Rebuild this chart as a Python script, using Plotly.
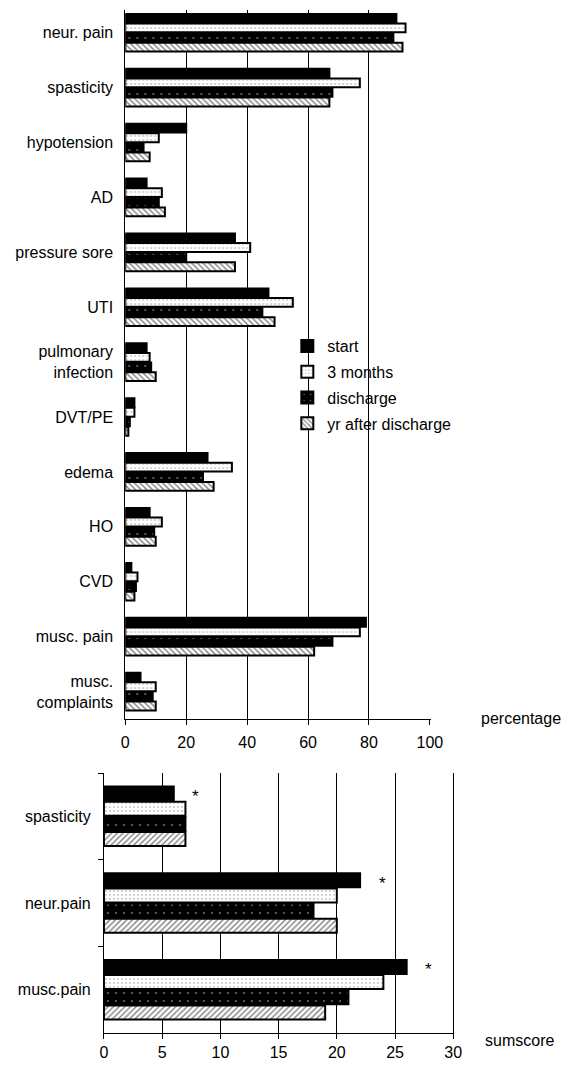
import plotly.graph_objects as go

# ---------------- data: top chart (percentage) ----------------
categories_pct = ["neur. pain", "spasticity", "hypotension", "AD", "pressure sore", "UTI",
                  "pulmonary<br>infection", "DVT/PE", "edema", "HO", "CVD", "musc. pain",
                  "musc.<br>complaints"]
start_pct = [89, 67, 20, 7, 36, 47, 7, 3, 27, 8, 2, 79, 5]
months3_pct = [92, 77, 11, 12, 41, 55, 8, 3, 35, 12, 4, 77, 10]
discharge_pct = [88, 68, 6, 11, 20, 45, 8.5, 1.5, 25.5, 9.5, 3.5, 68, 9]
yrafter_pct = [91, 67, 8, 13, 36, 49, 10, 1, 29, 10, 3, 62, 10]

# ---------------- data: bottom chart (sumscore) ----------------
categories_sum = ["spasticity", "neur.pain", "musc.pain"]
start_sum = [6, 22, 26]
months3_sum = [7, 20, 24]
discharge_sum = [7, 18, 21]
yrafter_sum = [7, 20, 19]
significant_sum = ["*", "*", "*"]

series_names = ["start", "3 months", "discharge", "yr after discharge"]
x_ticks_pct = [0, 20, 40, 60, 80, 100]
x_ticks_sum = [0, 5, 10, 15, 20, 25, 30]

FONT = "Liberation Sans, Arial, sans-serif"
W, H = 572, 1067


def styles(hatch, dot3, dotd):
    return [
        dict(color="black", line=dict(color="black", width=2)),
        dict(color="white", line=dict(color="black", width=2),
             pattern=dict(shape=".", fgcolor="black", bgcolor="white", size=dot3, solidity=0.08)),
        dict(color="black", line=dict(color="black", width=2),
             pattern=dict(shape=".", fgcolor="white", bgcolor="black", size=dotd, solidity=0.04)),
        dict(color="white", line=dict(color="black", width=2),
             pattern=dict(shape=hatch, fgcolor="black", bgcolor="white", size=4, solidity=0.35)),
    ]


fig = go.Figure()

top_series = [start_pct, months3_pct, discharge_pct, yrafter_pct]
for name, vals, mk in zip(series_names, top_series, styles("\\", 4, 8)):
    fig.add_trace(go.Bar(x=vals, y=categories_pct, orientation="h", name=name,
                         marker=mk, xaxis="x", yaxis="y", legendgroup=name))

bot_series = [start_sum, months3_sum, discharge_sum, yrafter_sum]
for name, vals, mk in zip(series_names, bot_series, styles("/", 4, 8)):
    fig.add_trace(go.Bar(x=vals, y=categories_sum, orientation="h", name=name,
                         marker=mk, xaxis="x2", yaxis="y2", showlegend=False,
                         legendgroup=name))

# asterisks next to the "start" bars of the bottom chart
annotations = []
for cat, v, s in zip(categories_sum, start_sum, significant_sum):
    annotations.append(dict(x=v + 1.9, y=cat, xref="x2", yref="y2", text=s,
                            showarrow=False, yshift=20,
                            font=dict(size=17, color="black", family=FONT)))

annotations.append(dict(x=490 / W, y=1 - 718 / H, xref="paper", yref="paper",
                        text="percentage", showarrow=False, xanchor="left", yanchor="middle",
                        font=dict(size=16, color="black", family=FONT)))
annotations.append(dict(x=494 / W, y=1 - 1040 / H, xref="paper", yref="paper",
                        text="sumscore", showarrow=False, xanchor="left", yanchor="middle",
                        font=dict(size=16, color="black", family=FONT)))

axis_common = dict(showline=True, linecolor="black", linewidth=1, zeroline=False,
                   tickfont=dict(size=16, color="black", family=FONT))

fig.update_layout(
    width=W, height=H,
    margin=dict(l=0, r=0, t=0, b=0),
    paper_bgcolor="white", plot_bgcolor="white",
    barmode="group", bargap=0.3, bargroupgap=0.08,
    font=dict(family=FONT, size=16, color="black"),
    xaxis=dict(domain=[125 / W, 439.9 / W], anchor="y", range=[0, 100.3],
               tickvals=x_ticks_pct, ticks="outside", ticklen=5, tickcolor="black",
               ticklabelstandoff=4,
               showgrid=True, gridcolor="black", gridwidth=1, **axis_common),
    yaxis=dict(domain=[1 - 719 / H, 1 - 10 / H], anchor="x", type="category",
               range=[12.5, -0.414], ticks="", showgrid=False, ticklabelstandoff=8,
               **axis_common),
    xaxis2=dict(domain=[103 / W, 464.2 / W], anchor="y2", range=[0, 30.1],
                tickvals=x_ticks_sum, ticks="outside", ticklen=5, tickcolor="black",
                showgrid=True, gridcolor="black", gridwidth=1, **axis_common),
    yaxis2=dict(domain=[1 - 1033 / H, 1 - 773 / H], anchor="x2", type="category",
                range=[2.5, -0.5], ticks="outside", tickson="boundaries", ticklen=5,
                tickcolor="black", showgrid=False, ticklabelstandoff=9, **axis_common),
    legend=dict(x=292 / W, y=1 - 329 / H, xanchor="left", yanchor="top",
                bgcolor="rgba(0,0,0,0)", font=dict(size=16, color="black", family=FONT),
                traceorder="grouped", tracegroupgap=2),
    annotations=annotations,
    showlegend=True,
)

fig.write_html("out.html")
